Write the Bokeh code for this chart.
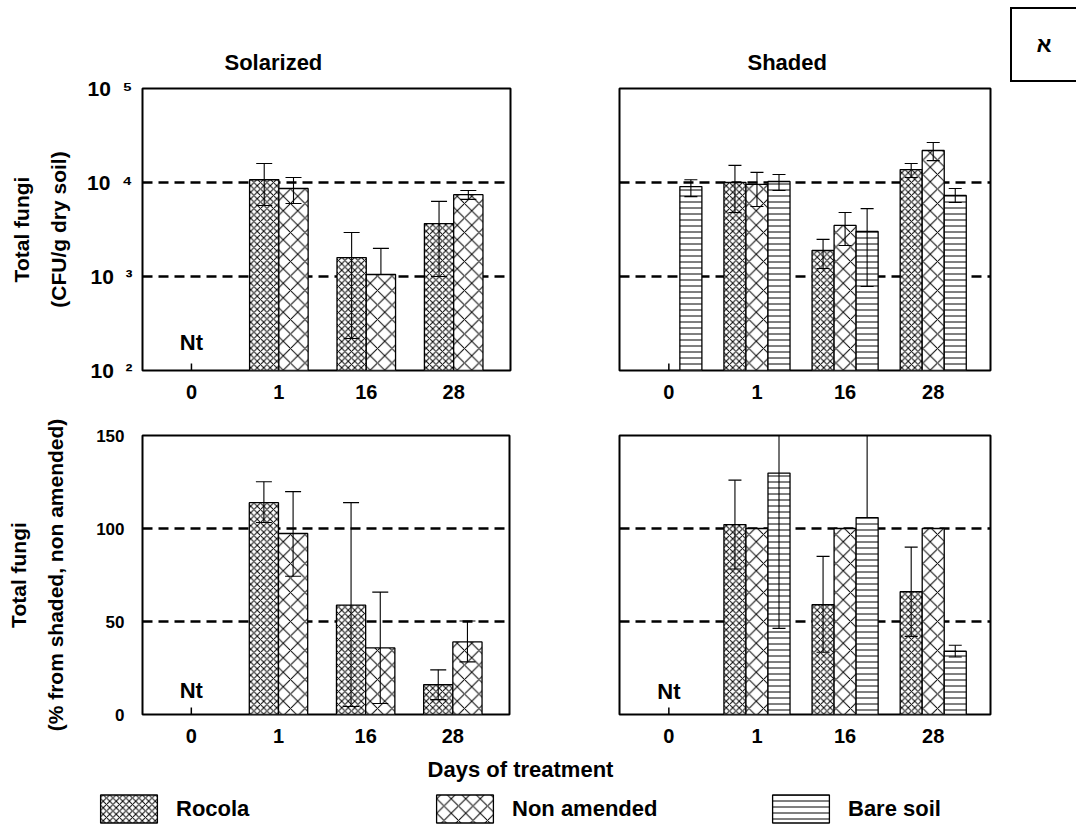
import math
from bokeh.plotting import figure
from bokeh.models import Range1d, FixedTicker, Label, Legend, LegendItem, Div
from bokeh.layouts import row, column
from bokeh.embed import file_html
from bokeh.resources import INLINE

FONT = "Liberation Sans"
NAN = float("nan")

# ---------------- data ----------------
days = ["0", "1", "16", "28"]
series = ["Rocola", "Non amended", "Bare soil"]

# Total fungi, CFU/g dry soil (log scale) -- Solarized
sol_rocola = [None, 10700, 1590, 3660]
sol_rocola_hi = [None, 15900, 2940, 6300]
sol_rocola_lo = [None, 5700, 219, 1000]
sol_non = [None, 8630, 1050, 7420]
sol_non_hi = [None, 11300, 1990, 8220]
sol_non_lo = [None, 5980, None, 6620]

# Total fungi, CFU/g dry soil (log scale) -- Shaded
shd_rocola = [None, 10000, 1890, 13740]
shd_rocola_hi = [None, 15200, 2480, 15900]
shd_rocola_lo = [None, 4800, 1215, 11300]
shd_non = [None, 9560, 3490, 21900]
shd_non_hi = [None, 12800, 4790, 26600]
shd_non_lo = [None, 5560, 2140, 17100]
shd_bare = [9060, 10250, 3010, 7280]
shd_bare_hi = [10700, 12170, 5270, 8630]
shd_bare_lo = [7080, 8220, 783, 6120]

# Total fungi, % from shaded non amended -- Solarized
pct_sol_rocola = [None, 113.9, 58.8, 16.0]
pct_sol_rocola_hi = [None, 125.1, 113.9, 24.0]
pct_sol_rocola_lo = [None, 103.2, 4.3, 8.0]
pct_sol_non = [None, 97.3, 35.8, 39.0]
pct_sol_non_hi = [None, 119.8, 65.8, 50.3]
pct_sol_non_lo = [None, 74.3, 5.9, 28.3]

# Total fungi, % from shaded non amended -- Shaded
pct_shd_rocola = [None, 102.1, 59.0, 66.0]
pct_shd_rocola_hi = [None, 126.0, 85.0, 90.0]
pct_shd_rocola_lo = [None, 78.2, 33.5, 42.0]
pct_shd_non = [None, 100.0, 100.0, 100.0]
pct_shd_non_hi = [None, None, None, None]
pct_shd_non_lo = [None, None, None, None]
pct_shd_bare = [None, 129.8, 105.9, 34.0]
pct_shd_bare_hi = [None, 213.0, 170.0, 37.2]
pct_shd_bare_lo = [None, 46.3, None, 30.9]

log_ticks = [100, 1000, 10000, 100000]
log_labels = ["10\u00a0\u00a0\u00b2", "10\u00a0\u00a0\u00b3", "10\u00a0\u00a0\u2074", "10\u00a0\u00a0\u2075"]
lin_ticks = [0, 50, 100, 150]
lin_labels = ["0", "50", "100", "150"]

STYLES = {
    "Rocola": dict(hatch_pattern="x", hatch_scale=6.5),
    "Non amended": dict(hatch_pattern="x", hatch_scale=14.5),
    "Bare soil": dict(hatch_pattern="-", hatch_scale=6),
}

XLO, XHI = -0.56, 3.65


def make_panel(width, height, mbl, mbr, mbt, mbb, log, ylabel=None, ystandoff=11,
               ylabel_standoff=20, ysize="20px", title=None, title_offset=0):
    yr = Range1d(log_ticks[0], log_ticks[-1]) if log else Range1d(lin_ticks[0], lin_ticks[-1])
    p = figure(width=width, height=height, output_backend="svg", toolbar_location=None,
               x_range=Range1d(XLO, XHI), y_range=yr,
               y_axis_type="log" if log else "linear",
               min_border_left=mbl, min_border_right=mbr,
               min_border_top=mbt, min_border_bottom=mbb)
    p.background_fill_color = "white"
    p.border_fill_color = "white"
    p.outline_line_color = "black"
    p.outline_line_width = 2
    p.xgrid.visible = False
    ticks = log_ticks if log else lin_ticks
    labels = log_labels if log else lin_labels
    p.ygrid.ticker = FixedTicker(ticks=ticks[1:-1])
    p.ygrid.grid_line_color = "black"
    p.ygrid.grid_line_width = 2.3
    p.ygrid.grid_line_dash = "10 6"

    if title:
        p.title.text = title
        p.title.align = "left"
        p.title.offset = title_offset
        p.title.text_font = FONT
        p.title.text_font_style = "bold"
        p.title.text_font_size = "22px"
        p.title.text_color = "black"
        p.title.standoff = 27

    xa = p.xaxis[0]
    xa.ticker = FixedTicker(ticks=list(range(len(days))))
    xa.major_label_overrides = {i: d for i, d in enumerate(days)}
    xa.axis_line_color = None
    xa.major_tick_line_color = None
    xa.minor_tick_line_color = None
    xa.major_label_text_font = FONT
    xa.major_label_text_font_style = "bold"
    xa.major_label_text_font_size = "20px"
    xa.major_label_text_color = "black"
    xa.major_label_standoff = 8

    ya = p.yaxis[0]
    if ylabel is not None:
        ya.ticker = FixedTicker(ticks=ticks)
        ya.major_label_overrides = {t: l for t, l in zip(ticks, labels)}
        ya.axis_line_color = None
        ya.major_tick_line_color = None
        ya.minor_tick_line_color = None
        ya.major_label_text_font = FONT
        ya.major_label_text_font_style = "bold"
        ya.major_label_text_font_size = ysize
        ya.major_label_text_color = "black"
        ya.major_label_standoff = ystandoff
        ya.axis_label = ylabel
        ya.axis_label_text_font = FONT
        ya.axis_label_text_font_style = "bold"
        ya.axis_label_text_font_size = "21px"
        ya.axis_label_text_line_height = 1.6
        ya.axis_label_text_color = "black"
        ya.axis_label_standoff = ylabel_standoff
    else:
        ya.visible = False

    # small tick at the first day position, rising from the baseline
    p.scatter(x=[0], y=[ticks[0]], marker="dash", angle=math.pi / 2, size=14,
              line_color="black", line_width=1.5)
    return p


def draw_group(p, vals_list, names, width, cap, bottom):
    n = len(vals_list)
    offsets = [(k - (n - 1) / 2.0) * width for k in range(n)]
    whiskers = []
    for (vals, hi, lo), name, off in zip(vals_list, names, offsets):
        idx = [i for i, v in enumerate(vals) if v is not None]
        xs = [i + off for i in idx]
        p.vbar(x=xs, top=[vals[i] for i in idx], bottom=bottom, width=width,
               fill_color="white", line_color="black", line_width=1.3,
               hatch_color="black", hatch_weight=1, **STYLES[name])
        whiskers.append((vals, hi, lo, off))
    for vals, hi, lo, off in whiskers:
        idx = [i for i, v in enumerate(vals) if v is not None and hi[i] is not None]
        if not idx:
            continue
        xs = [i + off for i in idx]
        y0 = [lo[i] if lo[i] is not None else vals[i] for i in idx]
        y1 = [hi[i] for i in idx]
        p.segment(x0=xs, y0=y0, x1=xs, y1=y1, line_color="black", line_width=1.1)
        p.scatter(x=xs, y=y1, marker="dash", size=cap, line_color="black", line_width=1.1)
        il = [i for i in idx if lo[i] is not None]
        p.scatter(x=[i + off for i in il], y=[lo[i] for i in il], marker="dash",
                  size=cap, line_color="black", line_width=1.1)


def add_label(p, x, y, text, size, xo=0, yo=0, angle=0.0):
    p.add_layout(Label(x=x, y=y, x_offset=xo, y_offset=yo, text=text, angle=angle,
                       text_font=FONT, text_font_style="bold", text_font_size=size,
                       text_align="center", text_baseline="middle", text_color="black"))


# ---------------- panels ----------------
# top-left: Solarized, log
p_tl = make_panel(560, 418, 142, 50, 88, 48, True,
                  ylabel="Total fungi\n(CFU/g dry soil)", ystandoff=4, ylabel_standoff=14,
                  ysize="21px", title="Solarized", title_offset=82)
draw_group(p_tl, [(sol_rocola, sol_rocola_hi, sol_rocola_lo),
                  (sol_non, sol_non_hi, sol_non_lo)],
           series[:2], 0.335, 16, log_ticks[0])
add_label(p_tl, 0, log_ticks[0], "Nt", "22px", yo=28)

# top-right: Shaded, log
p_tr = make_panel(445, 418, 59, 15, 88, 48, True, title="Shaded", title_offset=128)
draw_group(p_tr, [(shd_rocola, shd_rocola_hi, shd_rocola_lo),
                  (shd_non, shd_non_hi, shd_non_lo),
                  (shd_bare, shd_bare_hi, shd_bare_lo)],
           series, 0.25, 13, log_ticks[0])

# corner box
box_html = ('<div style="margin-top:2px;width:66px;height:75px;box-sizing:border-box;'
            'border:2.5px solid black;border-right:none;display:flex;align-items:center;'
            'justify-content:center;font-family:\'Liberation Sans\';font-weight:bold;'
            'font-size:22px;color:black;background:white;">\u05d0</div>')
p_box = Div(text=box_html, width=71, height=83)

# bottom-left: Solarized, %
p_bl = make_panel(560, 334, 142, 51, 17, 36, False,
                  ylabel="Total fungi\n(% from shaded, non amended)", ystandoff=12,
                  ylabel_standoff=26, ysize="17px")
draw_group(p_bl, [(pct_sol_rocola, pct_sol_rocola_hi, pct_sol_rocola_lo),
                  (pct_sol_non, pct_sol_non_hi, pct_sol_non_lo)],
           series[:2], 0.335, 16, lin_ticks[0])
add_label(p_bl, 0, lin_ticks[0], "Nt", "22px", yo=24)

# bottom-right: Shaded, %
p_br = make_panel(450, 334, 59, 20, 14, 38, False)
draw_group(p_br, [(pct_shd_rocola, pct_shd_rocola_hi, pct_shd_rocola_lo),
                  (pct_shd_non, pct_shd_non_hi, pct_shd_non_lo),
                  (pct_shd_bare, pct_shd_bare_hi, pct_shd_bare_lo)],
           series, 0.25, 13, lin_ticks[0])
add_label(p_br, 0, lin_ticks[0], "Nt", "22px", yo=23)

# legend strip
p_leg = figure(width=1076, height=74, output_backend="svg", toolbar_location=None, title=None,
               x_range=Range1d(0, 983), y_range=Range1d(0, 74),
               x_axis_location=None, y_axis_location=None,
               min_border_left=93, min_border_right=0, min_border_top=0, min_border_bottom=0)
p_leg.grid.visible = False
p_leg.outline_line_color = None
items = []
for name in series:
    r = p_leg.vbar(x=[NAN], top=[NAN], width=1, fill_color="white", line_color="black",
                   line_width=1.3, hatch_color="black", hatch_weight=1, **STYLES[name])
    items.append(LegendItem(label=name, renderers=[r]))
leg = Legend(items=items, orientation="horizontal", location="bottom_left",
             glyph_width=71, glyph_height=35, label_standoff=12, label_width=253,
             spacing=0, padding=0, margin=0, border_line_color=None,
             background_fill_alpha=0, label_text_font=FONT, label_text_color="black",
             label_text_font_style="bold", label_text_font_size="22px")
p_leg.add_layout(leg)
add_label(p_leg, 427, 57, "Days of treatment", "22px")

layout = column(row(p_tl, p_tr, p_box), row(p_bl, p_br), p_leg)

open("out.html", "w").write(file_html(layout, INLINE))
